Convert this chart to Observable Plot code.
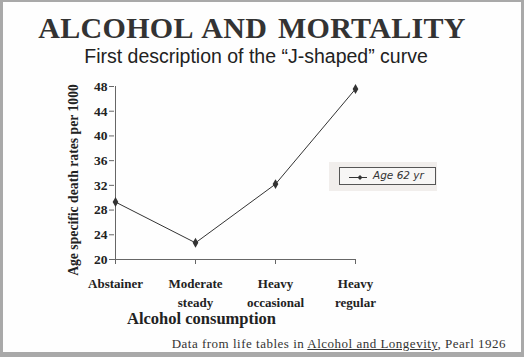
<!DOCTYPE html>
<html>
<head>
<meta charset="utf-8">
<script src="https://cdn.jsdelivr.net/npm/d3@7"></script>
<script src="https://cdn.jsdelivr.net/npm/@observablehq/plot@0.6"></script>
<style>
  html, body { margin: 0; padding: 0; background: #fff; }
  #page { position: relative; width: 524px; height: 357px; box-sizing: border-box;
          border-style: solid; border-color: #a9a9a9; border-width: 2px 3px 5px 3px; overflow: hidden; background: #fefefe; }
  .abs { position: absolute; white-space: nowrap; }
  #title { left: -10px; width: 518px; top: 9px; text-align: center; font-family: "Liberation Serif", serif; font-weight: bold;
           font-size: 30px; color: #333; letter-spacing: 0.3px; word-spacing: 3px; }
  #subtitle { left: -6px; width: 518px; top: 43px; text-align: center; font-family: "Liberation Sans", Arial, sans-serif;
              font-size: 19.5px; color: #222; }
  #xtitle { left: 124px; top: 307px; font-family: "Liberation Serif", serif; font-weight: bold; font-size: 16.5px; color: #222; }
  #ytitle { left: 71px; top: 178px; transform: translate(-50%, -50%) rotate(-90deg); font-family: "Liberation Serif", serif;
            font-weight: bold; font-size: 13.7px; color: #222; }
  #footer { right: 15px; top: 334px; font-family: "Liberation Serif", serif; font-size: 13px; letter-spacing: 0.5px; color: #333; }
  #footer u { text-decoration-thickness: 1px; }
  #legendbg { left: 326px; top: 160px; width: 108px; height: 29px; background: #f1eeec; }
  #legend { left: 336px; top: 165px; width: 97px; height: 18px; border: 1px solid #555; background: #f7f6f5; box-sizing: border-box; }
  #legend svg { position: absolute; left: 0; top: 0; }
  #legendtext { position: absolute; left: 33px; top: 1px; font-family: "DejaVu Sans", sans-serif; font-style: italic; font-size: 10.5px; color: #333; }
  #chart { position: absolute; left: 0; top: 0; }
</style>
</head>
<body>
<div id="page">
  <div id="chart"></div>
  <div class="abs" id="title">ALCOHOL AND MORTALITY</div>
  <div class="abs" id="subtitle">First description of the “J-shaped” curve</div>
  <div class="abs" id="ytitle">Age specific death rates per 1000</div>
  <div class="abs" id="xtitle">Alcohol consumption</div>
  <div class="abs" id="legendbg"></div>
  <div class="abs" id="legend">
    <svg width="97" height="18"><line x1="9" x2="27" y1="9.5" y2="9.5" stroke="#333" stroke-width="1"/><path d="M20,7 L22.5,9.5 L20,12 L17.5,9.5 Z" fill="#333"/></svg>
    <span id="legendtext">Age 62 yr</span>
  </div>
  <div class="abs" id="footer">Data from life tables in <u>Alcohol and Longevity</u>, Pearl 1926</div>
</div>
<script>
const categories = ["Abstainer", "Moderate steady", "Heavy occasional", "Heavy regular"];
const tickLabels = ["Abstainer", "Moderate\nsteady", "Heavy\noccasional", "Heavy\nregular"];
const deathRates = [29.3, 22.7, 32.2, 47.6];
const yTicks = [20, 24, 28, 32, 36, 40, 44, 48];

const data = categories.map((c, i) => ({category: c, rate: deathRates[i]}));
const labelOf = new Map(categories.map((c, i) => [c, tickLabels[i]]));

const chart = Plot.plot({
  width: 518,
  height: 350,
  marginLeft: 111,
  marginRight: 165,
  marginTop: 84,
  marginBottom: 93,
  style: {background: "transparent", color: "#222"},
  x: {type: "point", domain: categories, padding: 0},
  y: {domain: [20, 48]},
  marks: [
    Plot.ruleX([categories[0]], {stroke: "#666", strokeWidth: 1}),
    Plot.ruleY([20], {stroke: "#666", strokeWidth: 1}),
    Plot.axisY({ticks: yTicks, tickSize: 5, tickPadding: 2, label: null, stroke: "#666",
                fontSize: 13.5, fontFamily: "Liberation Serif, serif", fontWeight: "bold", fill: "#222"}),
    Plot.axisX({tickSize: 5, tickPadding: 10, label: null, stroke: "#666", lineHeight: 1.45,
                tickFormat: d => labelOf.get(d),
                fontSize: 13, fontFamily: "Liberation Serif, serif", fontWeight: "bold", fill: "#222"}),
    Plot.line(data, {x: "category", y: "rate", stroke: "#333", strokeWidth: 1}),
    Plot.dot(data, {x: "category", y: "rate", symbol: "diamond", r: 3, fill: "#333", stroke: "none"})
  ]
});
document.getElementById("chart").appendChild(chart);
</script>
</body>
</html>
